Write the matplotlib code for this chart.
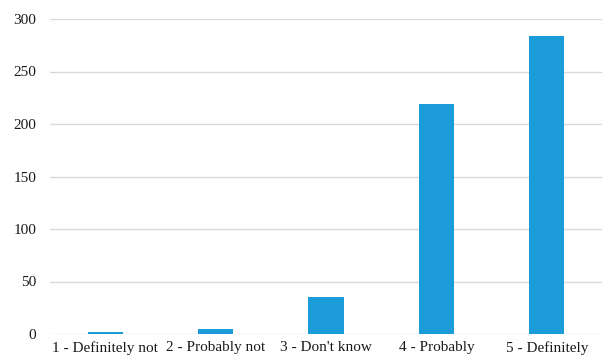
import matplotlib.pyplot as plt
import numpy as np

plt.rcParams['font.family'] = ['Liberation Serif', 'DejaVu Serif']

# Responses per answer category
categories = ['1 - Definitely not', '2 - Probably not', "3 - Don't know", '4 - Probably', '5 - Definitely']
counts = [2, 5, 35, 219, 284]
y_ticks = [0, 50, 100, 150, 200, 250, 300]

fig = plt.figure(figsize=(6.04, 3.63), dpi=100)
ax = fig.add_axes([50 / 604, 29 / 363, 552 / 604, 315 / 363])

x = np.arange(len(categories))
ax.bar(x, counts, width=0.32, color='#1b9bd7', zorder=3)

ax.set_xlim(-0.5, len(categories) - 0.5)
ax.set_ylim(0, 300)
ax.set_yticks(y_ticks)
ax.set_xticks(x)
ax.set_xticklabels(categories)
ax.grid(axis='y', color='#d9d9d9', linewidth=1, zorder=0)
ax.set_axisbelow(True)

for side in ['top', 'right', 'left', 'bottom']:
    ax.spines[side].set_visible(False)
ax.tick_params(axis='both', length=0, labelsize=11, colors='#1a1a1a')
ax.tick_params(axis='y', pad=10)
ax.tick_params(axis='x', pad=5)

fig.savefig('out.png', dpi=100)
